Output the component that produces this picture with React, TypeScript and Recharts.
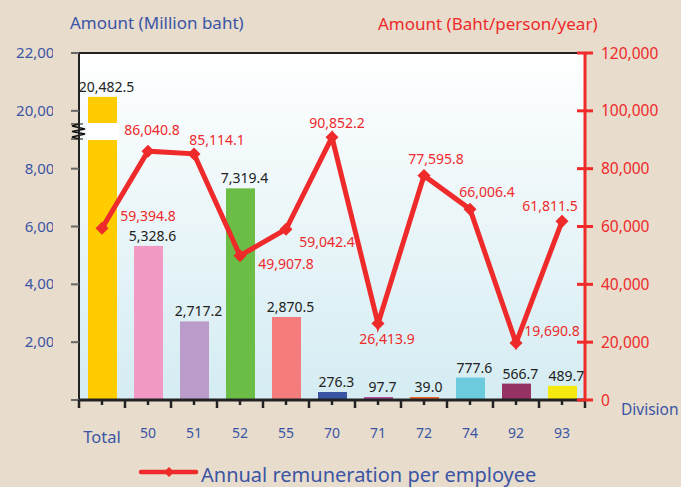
import React from 'react';
import {
  ComposedChart,
  Bar,
  Line,
  XAxis,
  YAxis,
  Cell,
  LabelList,
  ReferenceLine,
  CartesianGrid,
} from 'recharts';

// ---------- data ----------
const divisions = ['Total', '50', '51', '52', '55', '70', '71', '72', '74', '92', '93'];
const amountMillionBaht = [20482.5, 5328.6, 2717.2, 7319.4, 2870.5, 276.3, 97.7, 39.0, 777.6, 566.7, 489.7];
const remunerationPerEmployee = [
  59394.8, 86040.8, 85114.1, 49907.8, 59042.4, 90852.2, 26413.9, 77595.8, 66006.4, 19690.8, 61811.5,
];
const leftTickLabels = [0, 2000, 4000, 6000, 8000, 20000, 22000];
const rightTickLabels = [0, 20000, 40000, 60000, 80000, 100000, 120000];

// ---------- style ----------
const barColors = [
  '#FFCC00', '#F29AC4', '#BA9BC9', '#6BBD45', '#F47C7C', '#3A55A4',
  '#B5519E', '#E8632B', '#6CCBDD', '#963264', '#F5E90F',
];
// label offsets (dx, dy) from each line point
const lineLabelOffsets: [number, number][] = [
  [46, -12], [4, -21], [23, -14], [46, 8], [41, 13], [5, -14],
  [9, 15], [12, -17], [17, -17], [36, -12], [-12, -15],
];

const W = 681;
const H = 487;
const PLOT_LEFT = 79;
const PLOT_RIGHT_W = 96;
const PLOT_TOP = 53;
const XAXIS_H = 87;
const BAND_HALF = (W - PLOT_LEFT - PLOT_RIGHT_W) / divisions.length / 2;

const BG = '#E8DCCC';
const BLUE = '#3B55A5';
const RED = '#EE2A2A';
const FONT = '"Noto Sans", "DejaVu Sans", sans-serif';

// axis break: values above BREAK_AT are shifted down by BREAK_SHIFT
const BREAK_AT = 10000;
const BREAK_SHIFT = 10000;
const BREAK_GAP: [number, number] = [8990, 9580];
const toAxis = (v: number) => (v > BREAK_AT ? v - BREAK_SHIFT : v);
const fromAxis = (v: number) => (v >= BREAK_AT ? v + BREAK_SHIFT : v);

const data = divisions.map((d, i) => ({
  division: d,
  amount: amountMillionBaht[i],
  amountPlotted: toAxis(amountMillionBaht[i]),
  remuneration: remunerationPerEmployee[i],
}));

const fmt1 = (v: number) =>
  v.toLocaleString('en-US', { minimumFractionDigits: 1, maximumFractionDigits: 1 });
const fmt0 = (v: number) => v.toLocaleString('en-US');

// ---------- custom renderers ----------
const XTick = (props: any) => {
  const { x, y, payload, index } = props;
  const isTotal = payload.value === 'Total';
  return (
    <g>
      <line x1={x} y1={y} x2={x} y2={y + 5} stroke="#222" strokeWidth={2.5} />
      <line x1={x - BAND_HALF} y1={y} x2={x - BAND_HALF} y2={y + 8} stroke="#222" strokeWidth={2.5} />
      {index === divisions.length - 1 && (
        <line x1={x + BAND_HALF} y1={y} x2={x + BAND_HALF} y2={y + 8} stroke="#222" strokeWidth={2.5} />
      )}
      <text
        x={x}
        y={isTotal ? y + 43 : y + 38}
        textAnchor="middle"
        fill={BLUE}
        fontSize={isTotal ? 16.5 : 14}
        fontFamily={FONT}
      >
        {payload.value}
      </text>
    </g>
  );
};

const LeftTick = (props: any) => {
  const { x, y, payload, index } = props;
  if (payload.value === 0) return <g />;
  const id = `lclip-${index}`;
  return (
    <g>
      <defs>
        <clipPath id={id}>
          <rect x={0} y={y - 15} width={53} height={30} />
        </clipPath>
      </defs>
      <text
        x={x - 6}
        y={y + 5}
        textAnchor="end"
        fill={BLUE}
        fontSize={15}
        fontFamily={FONT}
        clipPath={`url(#${id})`}
      >
        {fmt0(fromAxis(payload.value))}
      </text>
    </g>
  );
};

const RightTick = (props: any) => {
  const { x, y, payload } = props;
  return (
    <g>
      <line x1={x - 8} y1={y} x2={x + 8} y2={y} stroke={RED} strokeWidth={3} />
      <text x={x + 16} y={y + 5.5} textAnchor="start" fill={RED} fontSize={15.5} fontFamily={FONT}>
        {fmt0(payload.value)}
      </text>
    </g>
  );
};

const BarShape = (props: any) => {
  const { x, y, width, height, fill, index, payload } = props;
  if (index !== 0) return <rect x={x} y={y} width={width} height={height} fill={fill} />;
  const bottom = y + height;
  const ppu = height / payload.amountPlotted;
  const gTop = bottom - BREAK_GAP[1] * ppu;
  const gBot = bottom - BREAK_GAP[0] * ppu;
  const ax = PLOT_LEFT;
  const mid = (gTop + gBot) / 2;
  const zig = `M${ax},${gTop - 2} L${ax},${gTop + 1} L${ax - 7},${gTop + 3} L${ax + 6},${gTop + 6} L${ax - 7},${mid} L${ax + 6},${gBot - 6} L${ax - 7},${gBot - 3} L${ax},${gBot - 1} L${ax},${gBot + 2}`;
  return (
    <g>
      <rect x={x} y={y} width={width} height={height} fill={fill} />
      <rect x={x - 1} y={gTop} width={width + 3} height={gBot - gTop} fill="#FFFFFF" />
      <path d={zig} fill="none" stroke="#111" strokeWidth={1.5} />
      <line x1={ax - 8} y1={gTop + 1} x2={ax + 4} y2={gTop + 1} stroke="#111" strokeWidth={1} />
      <line x1={ax - 8} y1={gBot - 1} x2={ax + 4} y2={gBot - 1} stroke="#111" strokeWidth={1} />
    </g>
  );
};

const BarLabel = (props: any) => {
  const { x, y, width, value } = props;
  return (
    <text
      x={x + width / 2 + 4}
      y={y - 5}
      textAnchor="middle"
      fill="#222"
      fontSize={14}
      fontFamily={FONT}
    >
      {fmt1(value)}
    </text>
  );
};

const Diamond = (props: any) => {
  const { cx, cy } = props;
  if (cx == null || cy == null) return <g />;
  const r = 6.5;
  return <path d={`M${cx},${cy - r} L${cx + r},${cy} L${cx},${cy + r} L${cx - r},${cy} Z`} fill={RED} />;
};

const LineLabel = (props: any) => {
  const { x, y, value, index } = props;
  const [dx, dy] = lineLabelOffsets[index] || [0, -12];
  return (
    <text
      x={x + dx}
      y={y + dy + 5}
      textAnchor="middle"
      fill={RED}
      fontSize={14}
      fontFamily={FONT}
    >
      {fmt1(value)}
    </text>
  );
};

export default function App() {
  const leftTicks = leftTickLabels.map(toAxis);
  return (
    <div style={{ position: 'absolute', left: 0, top: 0, width: W, height: H, background: BG, overflow: 'hidden' }}>
      <ComposedChart
        width={W}
        height={H}
        data={data}
        margin={{ top: PLOT_TOP, right: 0, bottom: 0, left: 0 }}
      >
        <defs>
          <linearGradient id="plotBg" x1="0" y1="0" x2="0" y2="1">
            <stop offset="0%" stopColor="#FFFFFF" />
            <stop offset="100%" stopColor="#D4ECF2" />
          </linearGradient>
        </defs>
        <CartesianGrid
          yAxisId="left"
          fill="url(#plotBg)"
          fillOpacity={1}
          horizontal={false}
          vertical={false}
          stroke="none"
        />
        <XAxis
          dataKey="division"
          height={XAXIS_H}
          interval={0}
          tickSize={0}
          tickMargin={0}
          tickLine={false}
          axisLine={{ stroke: '#222', strokeWidth: 3 }}
          tick={<XTick />}
        />
        <YAxis
          yAxisId="left"
          orientation="left"
          width={PLOT_LEFT}
          domain={[0, toAxis(22000)]}
          ticks={leftTicks}
          interval={0}
          tickSize={8}
          tickMargin={2}
          axisLine={{ stroke: '#222', strokeWidth: 2 }}
          tickLine={{ stroke: '#666', strokeWidth: 2 }}
          tick={<LeftTick />}
        />
        <YAxis
          yAxisId="right"
          orientation="right"
          width={PLOT_RIGHT_W}
          domain={[0, 120000]}
          ticks={rightTickLabels}
          interval={0}
          tickSize={0}
          tickMargin={0}
          tickLine={false}
          axisLine={{ stroke: RED, strokeWidth: 3 }}
          tick={<RightTick />}
        />
        <ReferenceLine yAxisId="left" y={toAxis(22000)} stroke="#222" strokeWidth={2} />
        <Bar
          yAxisId="left"
          dataKey="amountPlotted"
          barSize={29}
          minPointSize={3}
          isAnimationActive={false}
          shape={<BarShape />}
        >
          {data.map((d, i) => (
            <Cell key={d.division} fill={barColors[i]} />
          ))}
          <LabelList dataKey="amount" content={<BarLabel />} />
        </Bar>
        <Line
          yAxisId="right"
          type="linear"
          dataKey="remuneration"
          stroke={RED}
          strokeWidth={5}
          dot={<Diamond />}
          activeDot={false}
          isAnimationActive={false}
        >
          <LabelList dataKey="remuneration" content={<LineLabel />} />
        </Line>
      </ComposedChart>
      <svg
        width={W}
        height={H}
        style={{ position: 'absolute', left: 0, top: 0, pointerEvents: 'none' }}
      >
        <text x={70} y={29} fill={BLUE} fontSize={17} fontFamily={FONT}>
          Amount (Million baht)
        </text>
        <text x={378} y={30} fill={RED} fontSize={17} fontFamily={FONT}>
          Amount (Baht/person/year)
        </text>
        <text x={621} y={414.5} fill={BLUE} fontSize={15.5} fontFamily={FONT}>
          Division
        </text>
        <line x1={141} y1={472} x2={196} y2={472} stroke={RED} strokeWidth={4.5} strokeLinecap="round" />
        <path d="M169,467 L174,472 L169,477 L164,472 Z" fill={RED} />
        <text x={201} y={482} fill={BLUE} fontSize={20} fontFamily={FONT}>
          Annual remuneration per employee
        </text>
      </svg>
    </div>
  );
}
